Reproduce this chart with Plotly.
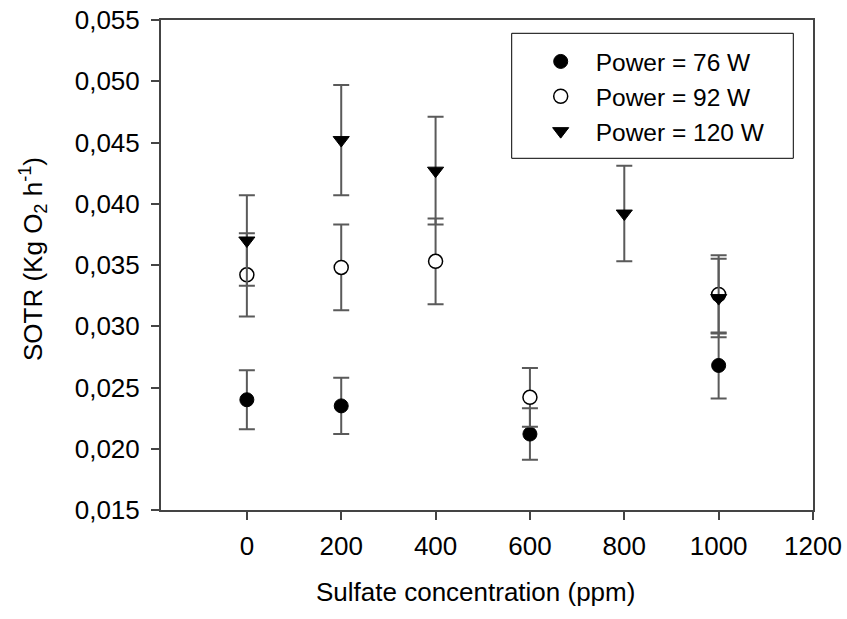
import plotly.graph_objects as go

# Data
x_76 = [0, 200, 600, 1000]
y_76 = [0.0240, 0.0235, 0.0212, 0.0268]
e_76 = [0.0024, 0.0023, 0.0021, 0.0027]

x_92 = [0, 200, 400, 600, 1000]
y_92 = [0.0342, 0.0348, 0.0353, 0.0242, 0.0326]
e_92 = [0.0034, 0.0035, 0.0035, 0.0024, 0.0032]

x_120 = [0, 200, 400, 800, 1000]
y_120 = [0.0370, 0.0452, 0.0427, 0.0392, 0.0323]
e_120 = [0.0037, 0.0045, 0.0044, 0.0039, 0.0032]

x_ticks = [0, 200, 400, 600, 800, 1000, 1200]
y_ticks = [0.015, 0.020, 0.025, 0.030, 0.035, 0.040, 0.045, 0.050, 0.055]
y_tick_text = ["0,015", "0,020", "0,025", "0,030", "0,035", "0,040", "0,045", "0,050", "0,055"]

FONT = "Liberation Sans, Arial, sans-serif"
ERRC = "#5a5a5a"

def err(arr):
    return dict(type="data", array=arr, visible=True, color=ERRC, thickness=2, width=8)

fig = go.Figure()
fig.add_trace(go.Scatter(x=x_76, y=y_76, mode="markers", name="Power = 76 W",
                         error_y=err(e_76),
                         marker=dict(symbol="circle", size=14, color="black",
                                     line=dict(color="black", width=1))))
fig.add_trace(go.Scatter(x=x_92, y=y_92, mode="markers", name="Power = 92 W",
                         error_y=err(e_92),
                         marker=dict(symbol="circle", size=14, color="white",
                                     line=dict(color="black", width=1.5))))
fig.add_trace(go.Scatter(x=x_120, y=y_120, mode="markers", name="Power = 120 W",
                         error_y=err(e_120),
                         marker=dict(symbol="triangle-down", size=14, color="black",
                                     line=dict(color="black", width=1))))

W, H = 847, 619
L, R, T, B = 161, 34, 20, 109
pw = W - L - R
ph = H - T - B

def px_x(px):
    return (px - L) / pw

def px_y(py):
    return (H - B - py) / ph

fig.update_layout(
    width=W, height=H,
    margin=dict(l=L, r=R, t=T, b=B, autoexpand=False),
    paper_bgcolor="white", plot_bgcolor="white",
    font=dict(family=FONT, size=25, color="black"),
    showlegend=True,
    legend=dict(x=px_x(511.7), y=px_y(39), xanchor="left", yanchor="top",
                borderwidth=0, bgcolor="rgba(0,0,0,0)",
                font=dict(family=FONT, size=24.5), tracegroupgap=0,
                indentation=14, itemwidth=60),
    xaxis=dict(range=[-182, 1200], tickvals=x_ticks, ticks="outside", ticklen=8,
               tickwidth=2, tickcolor="#444", showline=True, linecolor="#444",
               linewidth=2, mirror=True, showgrid=False, zeroline=False,
               automargin=False, ticklabelstandoff=4, tickfont=dict(size=26)),
    yaxis=dict(range=[0.015, 0.055], tickvals=y_ticks, ticktext=y_tick_text,
               ticks="outside", ticklen=8, tickwidth=2, tickcolor="#444",
               showline=True, linecolor="#444", linewidth=2, mirror=True,
               showgrid=False, zeroline=False, automargin=False, ticklabelstandoff=6,
               tickfont=dict(size=26)),
    shapes=[
        dict(type="rect", xref="paper", yref="paper",
             x0=px_x(511.7), x1=px_x(793.3), y0=px_y(158.3), y1=px_y(33.3),
             line=dict(color="black", width=1), fillcolor="white", layer="above"),
    ],
    annotations=[
        dict(text="Sulfate concentration (ppm)", xref="paper", yref="paper",
             x=px_x(475), y=px_y(592), xanchor="center", yanchor="middle",
             showarrow=False, font=dict(family=FONT, size=26)),
        dict(text="SOTR (Kg O<sub>2</sub> h<sup>-1</sup>)", xref="paper", yref="paper",
             x=px_x(33), y=px_y(259), xanchor="center", yanchor="middle",
             textangle=-90, showarrow=False, font=dict(family=FONT, size=26)),
    ],
)

fig.write_html("out.html", config={"displayModeBar": False},
               post_script="document.body.style.margin='0';document.body.style.overflow='hidden';")
